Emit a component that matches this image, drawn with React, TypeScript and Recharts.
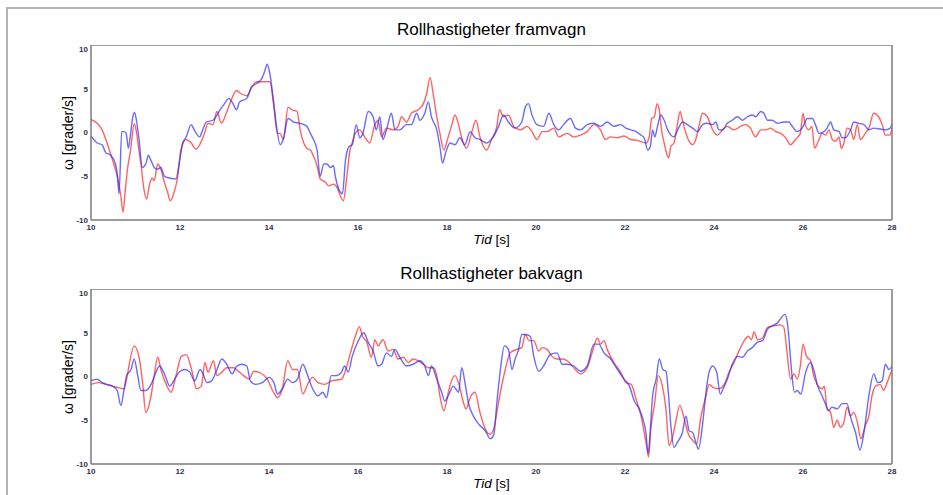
import { LineChart, Line, XAxis, YAxis } from 'recharts';

// Tid [s] och rollhastighet [grader/s]
const frontBlueT = [10.0, 10.14, 10.25, 10.33, 10.44, 10.55, 10.59, 10.63, 10.69, 10.74, 10.79, 10.84, 10.89, 10.94, 10.98, 11.02, 11.08, 11.15, 11.23, 11.29, 11.34, 11.42, 11.49, 11.57, 11.65, 11.76, 11.91, 11.98, 12.06, 12.14, 12.25, 12.32, 12.44, 12.51, 12.59, 12.74, 12.89, 13.0, 13.1, 13.19, 13.27, 13.34, 13.5, 13.61, 13.72, 13.83, 13.91, 13.96, 14.02, 14.1, 14.17, 14.25, 14.32, 14.43, 14.55, 14.7, 14.85, 14.93, 15.0, 15.08, 15.15, 15.23, 15.3, 15.38, 15.45, 15.49, 15.57, 15.65, 15.72, 15.8, 15.87, 15.96, 16.04, 16.11, 16.23, 16.34, 16.41, 16.49, 16.56, 16.64, 16.75, 16.83, 16.94, 17.09, 17.2, 17.32, 17.39, 17.5, 17.58, 17.65, 17.77, 17.84, 17.9, 17.97, 18.07, 18.18, 18.29, 18.4, 18.52, 18.63, 18.74, 18.89, 19.04, 19.16, 19.27, 19.38, 19.53, 19.68, 19.76, 19.83, 19.91, 20.02, 20.17, 20.29, 20.4, 20.51, 20.62, 20.77, 20.89, 21.0, 21.15, 21.3, 21.45, 21.6, 21.75, 21.9, 22.02, 22.13, 22.25, 22.36, 22.43, 22.51, 22.57, 22.62, 22.67, 22.73, 22.8, 22.88, 22.96, 23.03, 23.1, 23.22, 23.29, 23.4, 23.52, 23.63, 23.74, 23.85, 23.97, 24.04, 24.11, 24.19, 24.3, 24.41, 24.53, 24.64, 24.75, 24.86, 24.94, 25.05, 25.12, 25.2, 25.31, 25.42, 25.57, 25.68, 25.76, 25.87, 25.98, 26.1, 26.21, 26.28, 26.36, 26.47, 26.54, 26.62, 26.69, 26.81, 26.88, 26.95, 27.07, 27.14, 27.25, 27.37, 27.48, 27.59, 27.74, 27.85, 27.96, 28.0];
const frontBlueV = [-0.4, -1.2, -1.4, -2.3, -2.6, -3.6, -4.7, -7.0, 0.1, 0.1, -0.1, -1.8, -0.1, 1.8, 2.3, 1.4, -0.8, -4.0, -3.6, -2.6, -3.1, -4.0, -4.2, -4.0, -5.0, -5.2, -5.3, -3.6, -1.2, -0.5, 0.9, 0.3, -0.5, 0.3, 1.2, 1.4, 2.5, 3.3, 3.9, 3.3, 2.6, 3.5, 3.9, 5.2, 5.6, 6.1, 7.1, 7.8, 6.7, 3.7, 0.7, -1.4, -0.8, 1.6, 1.2, 1.05, 0.7, -0.1, -0.8, -2.0, -5.0, -3.6, -3.6, -4.0, -3.8, -5.0, -6.5, -7.0, -3.1, -1.6, -1.4, 0.9, -0.6, -0.1, 2.4, 1.8, 0.3, 1.8, -0.8, 0.3, 2.2, 0.3, 0.3, 0.9, 0.9, 2.2, 1.4, 2.2, 3.5, 1.8, 0.3, -1.6, -3.5, -2.3, -1.2, -1.4, -0.6, -1.4, 0.1, -0.6, -0.8, -1.2, -0.5, 0.7, 2.0, 1.2, 0.5, 1.2, 2.9, 3.3, 2.0, 0.9, 0.7, 2.2, 0.9, 0.3, 0.9, 1.6, 0.5, 0.3, 0.9, 1.05, 0.7, 1.2, 0.7, 0.9, 0.5, 0.3, 0.1, -0.3, -0.6, -2.0, -1.6, 0.3, -0.5, 0.7, 2.0, 1.4, 0.3, -0.3, -0.5, 0.7, 1.2, 0.9, 0.5, 0.1, 0.9, 1.05, 0.9, 1.2, 0.3, 0.3, 1.05, 1.4, 1.8, 1.4, 1.8, 2.0, 1.8, 2.4, 2.2, 1.4, 1.4, 1.05, 1.2, 1.2, 0.7, 0.1, 0.5, 1.6, 1.6, 0.9, -0.1, 0.1, 0.5, 1.2, 0.3, 0.1, -0.6, -0.6, 0.3, 1.2, 1.05, 0.9, 0.3, 0.5, 0.4, 0.3, 0.5, 1.05];

const frontRedT = [10.0, 10.14, 10.25, 10.36, 10.48, 10.59, 10.67, 10.72, 10.76, 10.82, 10.89, 10.97, 11.02, 11.07, 11.12, 11.19, 11.25, 11.31, 11.37, 11.42, 11.5, 11.57, 11.65, 11.72, 11.78, 11.87, 11.95, 12.02, 12.14, 12.25, 12.36, 12.48, 12.55, 12.63, 12.74, 12.83, 12.93, 13.04, 13.15, 13.27, 13.38, 13.5, 13.61, 13.72, 13.83, 14.02, 14.1, 14.19, 14.25, 14.32, 14.43, 14.51, 14.63, 14.7, 14.78, 14.85, 14.93, 15.0, 15.08, 15.15, 15.27, 15.34, 15.45, 15.53, 15.6, 15.67, 15.75, 15.82, 15.87, 15.94, 16.04, 16.15, 16.26, 16.38, 16.45, 16.53, 16.64, 16.79, 16.9, 16.98, 17.09, 17.2, 17.35, 17.47, 17.54, 17.62, 17.69, 17.77, 17.84, 17.93, 18.01, 18.11, 18.18, 18.26, 18.33, 18.44, 18.56, 18.65, 18.74, 18.89, 19.0, 19.12, 19.18, 19.27, 19.38, 19.5, 19.65, 19.8, 19.91, 20.02, 20.14, 20.25, 20.4, 20.51, 20.7, 20.85, 21.0, 21.15, 21.3, 21.45, 21.56, 21.68, 21.83, 21.98, 22.12, 22.28, 22.47, 22.54, 22.6, 22.66, 22.72, 22.77, 22.82, 22.88, 22.93, 22.98, 23.03, 23.1, 23.18, 23.24, 23.29, 23.37, 23.44, 23.52, 23.59, 23.67, 23.74, 23.85, 23.97, 24.08, 24.19, 24.3, 24.45, 24.6, 24.71, 24.82, 24.93, 25.05, 25.16, 25.27, 25.39, 25.5, 25.61, 25.72, 25.83, 25.94, 26.0, 26.05, 26.13, 26.2, 26.26, 26.36, 26.43, 26.51, 26.58, 26.66, 26.73, 26.81, 26.86, 26.92, 26.99, 27.07, 27.14, 27.22, 27.29, 27.4, 27.48, 27.59, 27.7, 27.78, 27.85, 27.95, 28.0];
const frontRedV = [1.5, 1.05, 0.3, -1.2, -3.1, -5.0, -7.2, -9.1, -7.2, -4.2, -2.0, 1.0, 0.1, -1.8, -3.5, -6.5, -7.6, -6.1, -5.2, -5.5, -3.6, -4.2, -5.7, -6.8, -7.8, -6.8, -5.0, -2.0, -0.8, -1.2, -1.9, -1.0, -0.1, 1.05, 0.9, 2.4, 1.05, 2.2, 3.7, 4.8, 4.4, 4.2, 5.2, 5.8, 5.8, 5.8, 3.3, -0.1, -0.1, -0.8, 2.9, 2.6, 2.4, 0.3, -1.2, -1.8, -2.0, -2.7, -3.8, -5.3, -5.7, -6.1, -5.9, -6.3, -7.2, -7.8, -5.0, -2.0, -1.2, -0.1, 0.3, -0.5, -1.2, 0.9, 1.4, -0.5, 0.5, 0.3, 0.7, 1.8, 1.2, 2.2, 2.6, 3.3, 4.4, 6.3, 4.4, 1.8, -0.1, -2.0, -0.8, 0.9, 2.0, 0.9, -0.6, -1.8, 0.1, 1.4, -0.5, -2.0, -0.8, 0.7, 2.6, 1.8, 2.0, 0.7, 0.3, 0.7, 0.1, -0.8, 0.1, 0.1, 0.5, -0.5, -0.1, -0.5, -0.3, 0.1, 0.9, 0.3, -0.8, -0.5, -0.6, -0.4, -0.8, -0.9, -1.2, -0.6, 1.6, 1.8, 3.3, 2.6, 0.3, -1.2, -2.3, -2.9, -1.6, -1.2, 1.05, 2.4, 1.4, -0.1, -1.0, -1.4, -0.8, 0.9, 2.2, 1.8, 0.3, -0.3, 0.3, 0.7, 0.3, 0.7, 0.9, 0.5, -0.5, 0.3, 0.3, 0.5, 0.1, -0.1, -0.6, -1.4, -0.8, -0.1, 2.2, 0.9, 0.3, 0.7, -1.8, -0.8, -0.1, -0.3, 0.3, -0.8, -1.0, -0.5, -1.8, -1.2, 0.5, 0.3, -0.8, 0.9, -0.8, -0.1, 0.5, 2.2, 1.8, 0.9, -0.3, -0.3, 0.5];

const rearBlueT = [10.0, 10.14, 10.25, 10.36, 10.48, 10.59, 10.67, 10.74, 10.8, 10.9, 10.97, 11.05, 11.12, 11.23, 11.35, 11.46, 11.54, 11.65, 11.77, 11.88, 12.0, 12.11, 12.22, 12.33, 12.45, 12.52, 12.6, 12.71, 12.83, 12.94, 13.05, 13.17, 13.28, 13.39, 13.5, 13.58, 13.7, 13.85, 14.0, 14.11, 14.19, 14.3, 14.42, 14.53, 14.64, 14.76, 14.87, 14.98, 15.1, 15.21, 15.29, 15.4, 15.51, 15.63, 15.7, 15.78, 15.87, 16.0, 16.13, 16.23, 16.34, 16.45, 16.53, 16.64, 16.75, 16.83, 16.94, 17.09, 17.24, 17.39, 17.5, 17.58, 17.65, 17.77, 17.88, 17.95, 18.03, 18.14, 18.26, 18.33, 18.41, 18.48, 18.59, 18.74, 18.86, 18.97, 19.05, 19.12, 19.2, 19.29, 19.38, 19.46, 19.53, 19.61, 19.68, 19.76, 19.87, 19.95, 20.06, 20.17, 20.32, 20.47, 20.59, 20.7, 20.85, 21.0, 21.15, 21.3, 21.41, 21.53, 21.68, 21.83, 21.98, 22.1, 22.21, 22.32, 22.4, 22.47, 22.52, 22.57, 22.62, 22.7, 22.77, 22.85, 22.92, 22.98, 23.03, 23.1, 23.18, 23.29, 23.37, 23.44, 23.52, 23.59, 23.65, 23.74, 23.82, 23.89, 23.97, 24.06, 24.14, 24.23, 24.3, 24.41, 24.53, 24.64, 24.75, 24.86, 24.97, 25.09, 25.2, 25.31, 25.42, 25.51, 25.59, 25.65, 25.71, 25.76, 25.81, 25.87, 25.95, 26.06, 26.17, 26.24, 26.33, 26.43, 26.5, 26.58, 26.65, 26.77, 26.88, 26.99, 27.06, 27.18, 27.28, 27.37, 27.48, 27.59, 27.68, 27.78, 27.85, 27.93, 28.0];
const rearBlueV = [-0.5, -0.3, -0.7, -0.9, -1.1, -1.6, -3.3, -1.6, 0.1, 0.8, 2.0, 0.1, -1.6, -1.6, -0.9, 0.5, 1.2, 0.3, -1.1, -0.3, 0.6, 0.8, 0.5, -0.5, 0.8, 0.3, -0.7, -0.5, 0.8, 2.0, 1.4, 0.3, 1.2, 1.4, 1.2, -0.5, -0.9, -0.7, -0.1, -0.7, -2.0, -1.4, -0.3, -0.7, -0.3, 1.4, 0.1, -1.4, -2.2, -1.8, -2.4, 0.1, 0.1, 0.5, 1.2, 0.5, 2.3, 4.0, 5.0, 3.9, 2.9, 1.2, 1.4, 2.7, 2.3, 3.1, 2.2, 1.2, 1.4, 1.8, 1.2, 0.1, 1.2, -0.3, -1.8, -2.8, -2.2, -1.1, -1.8, 1.0, -0.9, -3.0, -4.5, -5.6, -6.2, -7.1, -6.7, -3.0, 0.8, 3.5, 3.1, 0.8, 2.0, 3.1, 4.8, 4.8, 4.6, 2.3, 0.6, 1.2, 2.5, 2.7, 1.4, 1.4, 1.2, 0.6, 1.2, 3.7, 3.7, 2.7, 2.0, 0.8, -0.3, -1.1, -2.8, -3.7, -4.8, -6.4, -8.8, -6.0, -2.2, -0.3, 2.0, 0.8, 0.6, -2.2, -5.6, -8.1, -7.5, -6.4, -4.5, -6.2, -6.4, -7.5, -8.3, -5.6, -1.8, 0.5, 1.2, 0.5, -2.0, -1.1, -0.3, 1.4, 2.3, 2.2, 2.9, 3.3, 3.9, 4.1, 5.4, 5.8, 6.1, 6.7, 7.1, 6.1, 2.7, -0.3, -1.8, -1.6, -2.0, 0.5, 1.6, 0.8, -1.1, -2.2, -3.1, -3.9, -3.5, -3.7, -3.1, -3.1, -4.5, -6.4, -8.4, -6.4, -2.2, 0.3, -0.7, -0.5, 1.4, 0.8, 1.2];

const rearRedT = [10.0, 10.17, 10.33, 10.48, 10.63, 10.74, 10.8, 10.86, 10.97, 11.08, 11.16, 11.23, 11.35, 11.42, 11.5, 11.57, 11.69, 11.8, 11.91, 12.03, 12.14, 12.26, 12.37, 12.48, 12.56, 12.63, 12.75, 12.83, 12.94, 13.05, 13.2, 13.31, 13.43, 13.55, 13.66, 13.81, 13.96, 14.08, 14.19, 14.3, 14.42, 14.53, 14.64, 14.76, 14.87, 14.98, 15.1, 15.25, 15.4, 15.52, 15.63, 15.72, 15.83, 15.94, 16.03, 16.1, 16.2, 16.3, 16.38, 16.45, 16.56, 16.68, 16.79, 16.9, 17.02, 17.13, 17.24, 17.35, 17.47, 17.58, 17.69, 17.77, 17.84, 17.93, 18.03, 18.1, 18.18, 18.28, 18.35, 18.43, 18.52, 18.63, 18.74, 18.86, 18.97, 19.05, 19.12, 19.2, 19.31, 19.42, 19.57, 19.68, 19.76, 19.84, 19.95, 20.06, 20.14, 20.25, 20.36, 20.47, 20.59, 20.7, 20.85, 21.0, 21.15, 21.26, 21.38, 21.45, 21.53, 21.6, 21.75, 21.9, 22.02, 22.14, 22.25, 22.36, 22.47, 22.53, 22.58, 22.66, 22.75, 22.84, 22.92, 22.99, 23.07, 23.14, 23.23, 23.33, 23.41, 23.52, 23.61, 23.7, 23.82, 23.89, 24.0, 24.11, 24.23, 24.34, 24.45, 24.56, 24.68, 24.77, 24.84, 24.9, 24.98, 25.09, 25.2, 25.35, 25.5, 25.57, 25.65, 25.72, 25.8, 25.87, 25.94, 26.0, 26.08, 26.17, 26.24, 26.32, 26.43, 26.48, 26.54, 26.62, 26.69, 26.77, 26.84, 26.92, 26.99, 27.07, 27.14, 27.22, 27.3, 27.4, 27.48, 27.55, 27.63, 27.74, 27.81, 27.89, 28.0];
const rearRedV = [-0.9, -0.7, -0.9, -1.1, -1.3, -1.4, -0.3, 1.4, 3.5, 2.2, -0.7, -4.1, -2.2, 0.1, 2.2, 0.8, -0.9, -1.8, 0.1, 2.3, 2.5, 0.8, -1.4, -1.1, 1.6, 0.5, 1.8, 0.1, 0.5, 1.0, 1.0, 0.6, 0.1, -0.3, 0.6, 0.4, -0.3, -1.6, -2.4, -1.4, 1.8, 0.8, 0.8, -2.0, -0.9, -0.1, -0.7, -0.9, -0.5, -0.4, -0.3, 0.7, 2.7, 4.6, 5.7, 4.6, 3.9, 2.2, 4.2, 3.5, 4.2, 2.9, 3.1, 2.0, 2.2, 1.6, 2.0, 1.8, 1.4, 1.0, 1.0, 0.1, -2.2, -3.9, -1.8, -0.5, 0.1, -1.1, -2.6, -3.7, -2.4, -1.8, -4.1, -6.0, -6.6, -6.0, -4.1, -1.8, 0.8, 2.7, 3.1, 3.3, 4.8, 4.1, 4.1, 2.9, 3.3, 3.1, 2.3, 2.0, 2.0, 1.8, 1.0, 0.3, 1.0, 2.7, 4.4, 3.7, 4.1, 3.1, 1.6, 0.5, -0.7, -0.9, -2.6, -4.5, -7.5, -9.2, -6.0, -3.3, 0.1, -1.1, -3.7, -7.9, -6.9, -5.2, -3.3, -4.8, -6.4, -7.3, -7.7, -4.8, -2.2, -0.9, -1.3, -1.4, -0.9, 0.5, 1.6, 2.9, 4.1, 4.6, 4.2, 5.1, 4.2, 4.4, 5.6, 5.8, 5.9, 5.6, 2.3, -0.3, 0.3, -0.3, 1.2, 3.7, 2.3, 1.8, 0.1, -0.9, -1.4, -1.1, -3.7, -4.1, -5.8, -5.0, -5.8, -5.2, -3.5, -4.5, -4.1, -5.2, -7.1, -5.6, -4.5, -2.2, -1.1, -0.9, -1.6, -0.7, 0.8];

const xTicks = [10, 12, 14, 16, 18, 20, 22, 24, 26, 28];
const yTicks = [-10, -5, 0, 5, 10];

const BLUE = '#2b2bff';
const RED = '#ff2020';
const AXIS = '#7a7a7a';
const FONT = '"Liberation Sans", Arial, sans-serif';

const toPoints = (t: number[], v: number[]) => t.map((x, i) => ({ t: x, v: v[i] }));

const tickStyle = { fontSize: 8, fontWeight: 700, fill: '#30304a', fontFamily: FONT };

const Panel = ({ top, title, blue, red }: { top: number; title: string; blue: any[]; red: any[] }) => (
  <div style={{ position: 'absolute', left: 0, top, width: 943, height: 250 }}>
    <div style={{ position: 'absolute', left: 91, width: 801, top: -25, textAlign: 'center', fontSize: 17, fontFamily: FONT, color: '#000' }}>
      {title}
    </div>
    <div style={{ position: 'absolute', left: 68, top: 88, transform: 'translate(-50%, -50%) rotate(-90deg)', whiteSpace: 'nowrap', fontSize: 14, fontFamily: FONT, color: '#000' }}>
      ω [grader/s]
    </div>
    <div style={{ position: 'absolute', left: 91, width: 801, top: 187, textAlign: 'center', fontSize: 13.5, fontFamily: FONT, color: '#000' }}>
      <i>Tid</i> [s]
    </div>
    <LineChart width={943} height={250} margin={{ top: 0, right: 51, bottom: 60, left: 66 }} style={{ position: 'absolute', left: 0, top: 0 }}>
      <XAxis xAxisId="x" dataKey="t" type="number" domain={[10, 28]} ticks={xTicks} allowDataOverflow
        height={15} tickSize={0} tickMargin={4} tickLine={false} axisLine={{ stroke: AXIS, strokeWidth: 1.5 }} tick={tickStyle} />
      <XAxis xAxisId="xb" type="number" domain={[10, 28]} ticks={xTicks} mirror tick={false} tickSize={6}
        tickLine={{ stroke: AXIS }} axisLine={false} />
      <XAxis xAxisId="xt" orientation="top" type="number" domain={[10, 28]} ticks={xTicks} mirror tick={false} tickSize={6}
        tickLine={{ stroke: AXIS }} axisLine={{ stroke: AXIS, strokeWidth: 1.5 }} />
      <YAxis yAxisId="y" type="number" domain={[-10, 10]} ticks={yTicks} allowDataOverflow width={25}
        tickSize={0} tickMargin={3} tickLine={false} axisLine={{ stroke: AXIS, strokeWidth: 1.5 }} tick={tickStyle} />
      <YAxis yAxisId="yl" type="number" domain={[-10, 10]} ticks={yTicks} mirror tick={false} tickSize={6}
        tickLine={{ stroke: AXIS }} axisLine={false} />
      <YAxis yAxisId="yr" orientation="right" type="number" domain={[-10, 10]} ticks={yTicks} mirror tick={false} tickSize={6}
        tickLine={{ stroke: AXIS }} axisLine={{ stroke: AXIS, strokeWidth: 1.5 }} />
      <Line xAxisId="x" yAxisId="y" data={red} dataKey="v" type="monotone" stroke={RED} strokeOpacity={0.7}
        strokeWidth={1.4} dot={false} isAnimationActive={false} />
      <Line xAxisId="x" yAxisId="y" data={blue} dataKey="v" type="monotone" stroke={BLUE} strokeOpacity={0.7}
        strokeWidth={1.4} dot={false} isAnimationActive={false} />
    </LineChart>
  </div>
);

export default function App() {
  return (
    <div style={{ position: 'absolute', left: 0, top: 0, width: 943, height: 495, overflow: 'hidden', background: '#fff' }}>
      <div style={{ position: 'absolute', left: 6, top: 7, width: 960, height: 500, borderTop: '2px solid #b4b4b4', borderLeft: '2px solid #b4b4b4' }} />
      <Panel top={45} title="Rollhastigheter framvagn" blue={toPoints(frontBlueT, frontBlueV)} red={toPoints(frontRedT, frontRedV)} />
      <Panel top={289} title="Rollhastigheter bakvagn" blue={toPoints(rearBlueT, rearBlueV)} red={toPoints(rearRedT, rearRedV)} />
    </div>
  );
}
